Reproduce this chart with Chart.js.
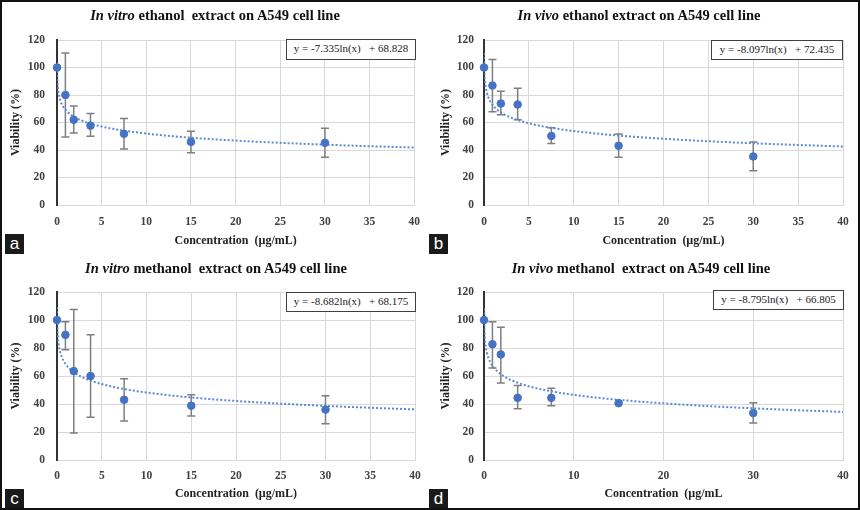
<!DOCTYPE html>
<html lang="en">
<head>
    <meta charset="UTF-8">
    <title>A549 cell viability</title>
    <script src="https://cdn.jsdelivr.net/npm/chart.js"></script>
    <style>
        html, body { margin: 0; padding: 0; background: #fff; }
        #page { position: relative; width: 860px; height: 510px; box-sizing: border-box; border: 2px solid #111; overflow: hidden; }
        .panel { position: absolute; width: 430px; height: 255px; }
        .panel canvas { position: absolute; left: 0; top: 0; }
        .title { position: absolute; left: 0; width: 430px; text-align: center; font: bold 14.5px 'Liberation Serif', serif; line-height: 17px; color: #111; }
        .eq { position: absolute; box-sizing: border-box; border: 1.5px solid #404040; background: #fff; font: 11px 'Liberation Serif', serif; color: #222; white-space: pre; text-align: center; line-height: 17px; }
        .tag { position: absolute; width: 19px; height: 20px; background: #1a1a1a; color: #fff; font: 17px 'Liberation Sans', sans-serif; line-height: 19px; text-align: center; }
    </style>
</head>
<body>
<div id="page">
    <div class="panel" style="left:-2px; top:-2px;"><canvas id="chartA" width="430" height="255"></canvas></div>
    <div class="panel" style="left:428px; top:-2px;"><canvas id="chartB" width="430" height="255"></canvas></div>
    <div class="panel" style="left:-2px; top:253px;"><canvas id="chartC" width="430" height="255"></canvas></div>
    <div class="panel" style="left:428px; top:253px;"><canvas id="chartD" width="430" height="255"></canvas></div>

    <div class="title" style="left:-2px; top:5px;"><i>In vitro</i> ethanol&nbsp; extract on A549 cell line</div>
    <div class="title" style="left:422px; top:5px;"><i>In vivo</i> ethanol extract on A549 cell line</div>
    <div class="title" style="left:-1px; top:258px;"><i>In vitro</i> methanol&nbsp; extract on A549 cell line</div>
    <div class="title" style="left:424px; top:258px;"><i>In vivo</i> methanol&nbsp; extract on A549 cell line</div>

    <div class="eq" style="left:284px; top:37px; width:130px; height:21px;">y = -7.335ln(x)   + 68.828</div>
    <div class="eq" style="left:709px; top:38px; width:132px; height:20px;">y = -8.097ln(x)   + 72.435</div>
    <div class="eq" style="left:284px; top:290px; width:130px; height:20px;">y = -8.682ln(x)   + 68.175</div>
    <div class="eq" style="left:711px; top:288px; width:131px; height:20px;">y = -8.795ln(x)   + 66.805</div>

    <div class="tag" style="left:3px; top:232px;">a</div>
    <div class="tag" style="left:427px; top:232px;">b</div>
    <div class="tag" style="left:3px; top:487px;">c</div>
    <div class="tag" style="left:427px; top:487px;">d</div>
</div>

<script>
    // concentrations (µg/mL), shared by all four panels
    const concentrations = [0, 0.94, 1.875, 3.75, 7.5, 15, 30];

    // viability (%) and error bar ends
    const viabilityA = [100, 80, 62, 57.7, 51.8, 45.9, 45.2];
    const errHighA   = [null, 110.5, 72, 66.5, 63, 53.7, 55.8];
    const errLowA    = [null, 49.4, 52.3, 50, 40.7, 38, 34.8];

    const viabilityB = [100, 86.9, 73.8, 73.1, 50.2, 43.1, 35.3];
    const errHighB   = [null, 105.8, 82.8, 85, 56.1, 51.6, 45.9];
    const errLowB    = [null, 67.9, 65.6, 62, 44.7, 34.8, 24.9];

    const viabilityC = [100, 89.4, 63.5, 60, 43, 38.8, 36];
    const errHighC   = [null, 98.8, 107.5, 89.4, 58.1, 46.6, 45.9];
    const errLowC    = [null, 78.8, 19.3, 30.6, 27.8, 31.5, 25.9];

    const viabilityD = [100, 82.7, 75.4, 44.4, 44.4, 40.6, 33.5];
    const errHighD   = [null, 98.7, 94.9, 53.2, 51.3, null, 40.9];
    const errLowD    = [null, 65.7, 55, 36.6, 38.7, null, 26.5];

    // logarithmic trendlines shown in the boxes: y = slope*ln(x) + intercept
    const trendSlope     = [-7.335, -8.097, -8.682, -8.795];
    const trendIntercept = [68.828, 72.435, 68.175, 66.805];
    const trendX = [0.009, 0.02, 0.05, 0.1, 0.2, 0.35, 0.5, 0.7, 1, 1.4, 2, 2.7, 3.5, 4.5, 6, 8, 10, 13, 16, 20, 25, 30, 35, 40];

    const xTicksStep = [5, 5, 5, 10];
    const yTicksStep = 20;

    const blue = '#4472C4';
    const tickFont = { family: "'Liberation Serif', serif", size: 11.5, weight: 'bold' };
    const titleFont = { family: "'Liberation Serif', serif", size: 12, weight: 'bold' };

    // draws vertical error bars with caps using the chart scales
    const errorBars = {
        id: 'errorBars',
        beforeDatasetsDraw(chart, args, opts) {
            const { ctx, scales: { x, y } } = chart;
            ctx.save();
            ctx.strokeStyle = '#7f7f7f';
            ctx.lineWidth = 1.5;
            opts.xs.forEach((xv, i) => {
                if (opts.high[i] == null) return;
                const px = x.getPixelForValue(xv);
                const top = y.getPixelForValue(opts.high[i]);
                const bot = y.getPixelForValue(opts.low[i]);
                ctx.beginPath();
                ctx.moveTo(px, top); ctx.lineTo(px, bot);
                ctx.moveTo(px - 4, top); ctx.lineTo(px + 4, top);
                ctx.moveTo(px - 4, bot); ctx.lineTo(px + 4, bot);
                ctx.stroke();
            });
            ctx.restore();
        }
    };

    function makePanel(id, values, high, low, k, layout) {
        const points = concentrations.map((c, i) => ({ x: c, y: values[i] }));
        const trend = trendX.map(t => ({ x: t, y: trendSlope[k] * Math.log(t) + trendIntercept[k] }));
        return new Chart(document.getElementById(id), {
            type: 'scatter',
            data: {
                datasets: [
                    { data: points, backgroundColor: blue, borderColor: blue, pointRadius: 3.8, pointHoverRadius: 3.8, clip: false },
                    { data: trend, showLine: true, pointRadius: 0, borderColor: '#5a8ad6', borderWidth: 2,
                      borderDash: [2, 2], cubicInterpolationMode: 'monotone' }
                ]
            },
            options: {
                responsive: false,
                animation: false,
                events: [],
                layout: { padding: { top: layout.top, right: layout.right, left: 0, bottom: 0 } },
                plugins: {
                    legend: { display: false },
                    tooltip: { enabled: false },
                    errorBars: { xs: concentrations, high: high, low: low }
                },
                scales: {
                    x: {
                        type: 'linear', min: 0, max: 40,
                        ticks: { stepSize: xTicksStep[k], color: '#404040', font: tickFont, padding: layout.xPad, maxRotation: 0 },
                        grid: { color: '#d9d9d9', drawTicks: false },
                        border: { color: '#d9d9d9' },
                        title: { display: true, text: layout.xTitle, color: '#222', font: titleFont, padding: { top: 0, bottom: layout.titlePad } },
                        afterFit: s => { s.height = layout.xh; }
                    },
                    y: {
                        min: 0, max: 120,
                        ticks: { stepSize: yTicksStep, color: '#404040', font: tickFont, padding: layout.tickPad },
                        grid: { color: '#d9d9d9', drawTicks: false },
                        border: { color: '#333', width: 2 },
                        title: { display: true, text: 'Viability (%)', color: '#222', font: titleFont, padding: { top: 9, bottom: 0 } },
                        afterFit: s => { s.width = layout.yw; }
                    }
                }
            },
            plugins: [errorBars]
        });
    }

    makePanel('chartA', viabilityA, errHighA, errLowA, 0,
        { top: 40, right: 15, yw: 57, xh: 50, xPad: 10, tickPad: 12, titlePad: 7, xTitle: 'Concentration  (µg/mL)' });
    makePanel('chartB', viabilityB, errHighB, errLowB, 1,
        { top: 40, right: 17, yw: 54, xh: 50, xPad: 10, tickPad: 10, titlePad: 7, xTitle: 'Concentration  (µg/mL)' });
    makePanel('chartC', viabilityC, errHighC, errLowC, 2,
        { top: 37, right: 15, yw: 57, xh: 50, xPad: 9, tickPad: 12, titlePad: 9, xTitle: 'Concentration  (µg/mL)' });
    makePanel('chartD', viabilityD, errHighD, errLowD, 3,
        { top: 37, right: 17, yw: 54, xh: 50, xPad: 9, tickPad: 10, titlePad: 9, xTitle: 'Concentration  (µg/mL' });
</script>
</body>
</html>
